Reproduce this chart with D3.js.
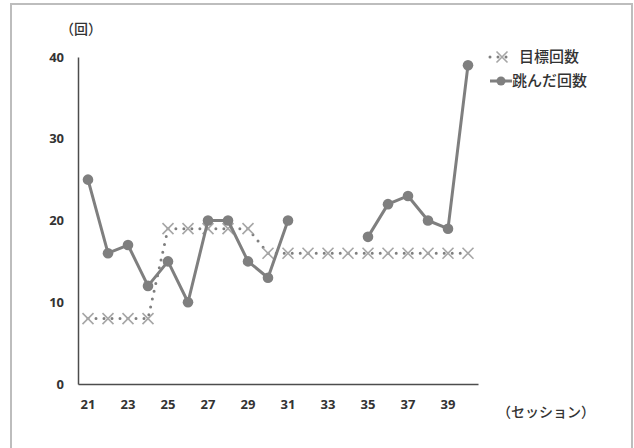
<!DOCTYPE html>
<html>
<head>
<meta charset="utf-8">
<script src="https://cdn.jsdelivr.net/npm/d3@7"></script>
<style>
  html, body { margin: 0; padding: 0; background: #fff; }
  svg { display: block; }
  text { font-family: "Noto Sans CJK JP", "Noto Sans", sans-serif; fill: #333; }
</style>
</head>
<body>
<svg id="chart" width="634" height="448"></svg>
<script>
// Sessions 21–40
const sessions = d3.range(21, 41);
// Only every other session is labelled on the axis
const sessionTicks = [21, 23, 25, 27, 29, 31, 33, 35, 37, 39];
const countTicks = [0, 10, 20, 30, 40];

// 目標回数 (target count) per session
const targetCounts = [8, 8, 8, 8, 19, 19, 19, 19, 19, 16,
                      16, 16, 16, 16, 16, 16, 16, 16, 16, 16];
// 跳んだ回数 (jumps achieved); null where no session data
const jumpCounts = [25, 16, 17, 12, 15, 10, 20, 20, 15, 13,
                    20, null, null, null, 18, 22, 23, 20, 19, 39];

const seriesNames = ["目標回数", "跳んだ回数"];

const svg = d3.select("#chart");

// Outer frame
svg.append("rect")
  .attr("x", 11).attr("y", 4)
  .attr("width", 621).attr("height", 460)
  .attr("fill", "#fff")
  .attr("stroke", "#bdbdbd")
  .attr("stroke-width", 2);

const plot = { left: 78, right: 478, top: 57, bottom: 384 };

const x = d3.scaleBand()
  .domain(sessions)
  .range([plot.left, plot.right]);

const y = d3.scaleLinear()
  .domain([0, 40])
  .range([plot.bottom, plot.top]);

const cx = s => x(s) + x.bandwidth() / 2;

// Axes
const yAxis = svg.append("g")
  .attr("transform", `translate(${plot.left},0)`)
  .call(d3.axisLeft(y).tickValues(countTicks).tickSize(0).tickPadding(14));
const xAxis = svg.append("g")
  .attr("transform", `translate(0,${plot.bottom})`)
  .call(d3.axisBottom(x).tickValues(sessionTicks).tickSize(0).tickPadding(16));

[yAxis, xAxis].forEach(g => {
  g.select(".domain").attr("stroke", "#4d4d4d").attr("stroke-width", 1.5);
  g.selectAll("text")
    .attr("font-size", 13)
    .attr("font-weight", "bold")
    .attr("fill", "#404040")
    .style("font-family", "'Noto Sans', sans-serif");
});

// Axis titles
svg.append("text")
  .attr("x", 81).attr("y", 34)
  .attr("text-anchor", "middle")
  .attr("font-size", 14)
  .attr("font-weight", 500)
  .text("（回）");
svg.append("text")
  .attr("x", 546).attr("y", 417)
  .attr("text-anchor", "middle")
  .attr("font-size", 14)
  .attr("font-weight", 500)
  .text("（セッション）");

const targetData = sessions.map((s, i) => ({ s, v: targetCounts[i] }));
const jumpData = sessions.map((s, i) => ({ s, v: jumpCounts[i] }));

// Target series: dotted line with x markers
const line = d3.line()
  .defined(d => d.v !== null)
  .x(d => cx(d.s))
  .y(d => y(d.v));

svg.append("path")
  .datum(targetData)
  .attr("d", line)
  .attr("fill", "none")
  .attr("stroke", "#7f7f7f")
  .attr("stroke-width", 3)
  .attr("stroke-linecap", "round")
  .attr("stroke-dasharray", "0 8");

const crossSize = 5.5;
function drawCross(g, px, py) {
  g.append("path")
    .attr("d", `M${px - crossSize},${py - crossSize}L${px + crossSize},${py + crossSize}` +
               `M${px - crossSize},${py + crossSize}L${px + crossSize},${py - crossSize}`)
    .attr("stroke", "#a6a6a6")
    .attr("stroke-width", 1.6)
    .attr("fill", "none");
}
const crosses = svg.append("g");
targetData.forEach(d => drawCross(crosses, cx(d.s), y(d.v)));

// Jump series: solid line with round markers
svg.append("path")
  .datum(jumpData)
  .attr("d", line)
  .attr("fill", "none")
  .attr("stroke", "#7f7f7f")
  .attr("stroke-width", 3)
  .attr("stroke-linejoin", "round");

svg.append("g").selectAll("circle")
  .data(jumpData.filter(d => d.v !== null))
  .join("circle")
  .attr("cx", d => cx(d.s))
  .attr("cy", d => y(d.v))
  .attr("r", 5.3)
  .attr("fill", "#7f7f7f");

// Legend
const legend = svg.append("g");
const lgX = 488, lgY = [57, 81];

legend.append("line")
  .attr("x1", lgX + 2).attr("x2", lgX + 22)
  .attr("y1", lgY[0]).attr("y2", lgY[0])
  .attr("stroke", "#7f7f7f").attr("stroke-width", 3)
  .attr("stroke-linecap", "round").attr("stroke-dasharray", "0 8");
drawCross(legend, lgX + 14, lgY[0]);

legend.append("line")
  .attr("x1", lgX + 2).attr("x2", lgX + 24)
  .attr("y1", lgY[1]).attr("y2", lgY[1])
  .attr("stroke", "#7f7f7f").attr("stroke-width", 3);
legend.append("circle")
  .attr("cx", lgX + 13).attr("cy", lgY[1]).attr("r", 4.5)
  .attr("fill", "#7f7f7f");

legend.selectAll("text.lg")
  .data(seriesNames)
  .join("text")
  .attr("class", "lg")
  .attr("x", (d, i) => i === 0 ? 519 : 512)
  .attr("y", (d, i) => lgY[i])
  .attr("dy", "0.35em")
  .attr("font-size", 15)
  .attr("font-weight", 500)
  .text(d => d);
</script>
</body>
</html>
